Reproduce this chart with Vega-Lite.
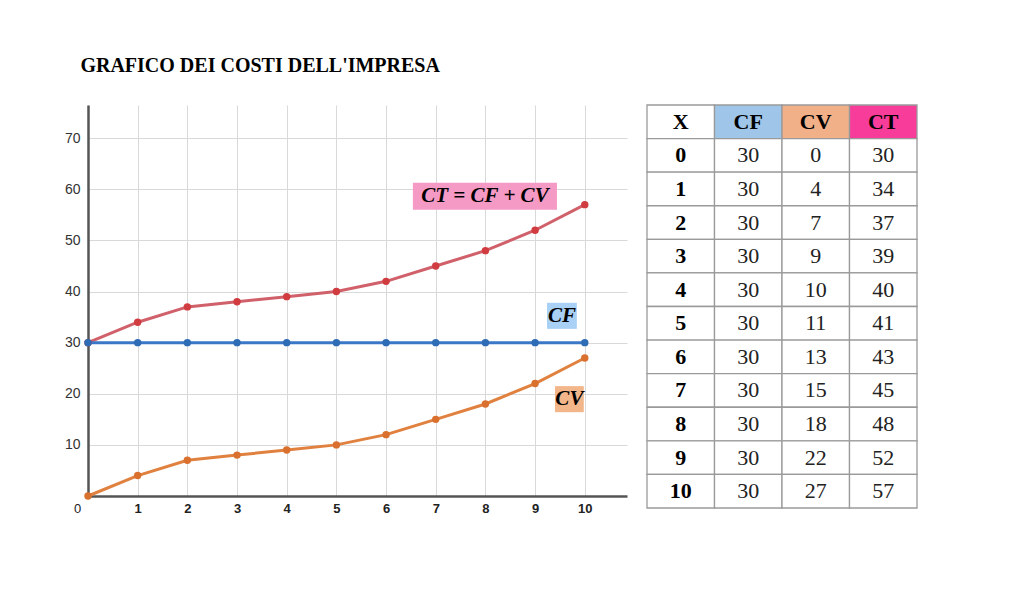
{
  "$schema": "https://vega.github.io/schema/vega-lite/v6.json",
  "background": "white",
  "padding": {"left": 64, "top": 56, "right": 5, "bottom": 5},
  "title": {
    "text": "GRAFICO DEI COSTI DELL'IMPRESA",
    "anchor": "start",
    "font": "Liberation Serif",
    "fontSize": 20,
    "fontWeight": "bold",
    "color": "black",
    "dx": 16,
    "offset": 28
  },
  "config": {"view": {"stroke": null}, "concat": {"spacing": 19}},
  "datasets": {
    "grafico": [
      {"x": 0, "CT": 30, "CF": 30, "CV": 0},
      {"x": 1, "CT": 34, "CF": 30, "CV": 4},
      {"x": 2, "CT": 37, "CF": 30, "CV": 7},
      {"x": 3, "CT": 38, "CF": 30, "CV": 8},
      {"x": 4, "CT": 39, "CF": 30, "CV": 9},
      {"x": 5, "CT": 40, "CF": 30, "CV": 10},
      {"x": 6, "CT": 42, "CF": 30, "CV": 12},
      {"x": 7, "CT": 45, "CF": 30, "CV": 15},
      {"x": 8, "CT": 48, "CF": 30, "CV": 18},
      {"x": 9, "CT": 52, "CF": 30, "CV": 22},
      {"x": 10, "CT": 57, "CF": 30, "CV": 27}
    ],
    "etichette": [
      {"serie": "CT", "testo": "CT = CF + CV", "x0": 6.54, "x1": 9.44, "y0": 56.0, "y1": 61.3, "xc": 7.99, "yc": 58.6},
      {"serie": "CF", "testo": "CF", "x0": 9.24, "x1": 9.84, "y0": 32.7, "y1": 37.8, "xc": 9.54, "yc": 35.2},
      {"serie": "CV", "testo": "CV", "x0": 9.4, "x1": 9.98, "y0": 16.4, "y1": 21.5, "xc": 9.69, "yc": 19.0}
    ],
    "tabella": [
      {"riga": 0, "X": "X", "CF": "CF", "CV": "CV", "CT": "CT"},
      {"riga": 1, "X": "0", "CF": "30", "CV": "0", "CT": "30"},
      {"riga": 2, "X": "1", "CF": "30", "CV": "4", "CT": "34"},
      {"riga": 3, "X": "2", "CF": "30", "CV": "7", "CT": "37"},
      {"riga": 4, "X": "3", "CF": "30", "CV": "9", "CT": "39"},
      {"riga": 5, "X": "4", "CF": "30", "CV": "10", "CT": "40"},
      {"riga": 6, "X": "5", "CF": "30", "CV": "11", "CT": "41"},
      {"riga": 7, "X": "6", "CF": "30", "CV": "13", "CT": "43"},
      {"riga": 8, "X": "7", "CF": "30", "CV": "15", "CT": "45"},
      {"riga": 9, "X": "8", "CF": "30", "CV": "18", "CT": "48"},
      {"riga": 10, "X": "9", "CF": "30", "CV": "22", "CT": "52"},
      {"riga": 11, "X": "10", "CF": "30", "CV": "27", "CT": "57"}
    ]
  },
  "hconcat": [
    {
      "width": 539,
      "height": 391,
      "layer": [
        {
          "data": {"name": "etichette"},
          "mark": {"type": "rect"},
          "encoding": {
            "x": {"field": "x0", "type": "quantitative"},
            "x2": {"field": "x1"},
            "y": {"field": "y0", "type": "quantitative"},
            "y2": {"field": "y1"},
            "color": {
              "field": "serie",
              "type": "nominal",
              "legend": null,
              "scale": {"domain": ["CT", "CF", "CV"], "range": ["#f59ac5", "#a9d0f5", "#f3b68b"]}
            }
          }
        },
        {
          "data": {"name": "grafico"},
          "transform": [{"fold": ["CT", "CF", "CV"], "as": ["serie", "costo"]}],
          "encoding": {
            "x": {
              "field": "x",
              "type": "quantitative",
              "title": null,
              "scale": {"domain": [0, 10.85], "nice": false, "zero": false},
              "axis": {
                "values": [0, 1, 2, 3, 4, 5, 6, 7, 8, 9, 10],
                "grid": true,
                "gridColor": "#d9d9d9",
                "ticks": false,
                "domainColor": "#555555",
                "domainWidth": 2.5,
                "labelFont": "Liberation Sans",
                "labelFontSize": 13,
                "labelColor": "#222222",
                "labelPadding": 6,
                "labelFlush": false,
                "labelFontWeight": {"condition": {"test": "datum.value === 0", "value": "normal"}, "value": "bold"},
                "labelOffset": {"condition": {"test": "datum.value === 0", "value": -11}, "value": 0}
              }
            },
            "y": {
              "field": "costo",
              "type": "quantitative",
              "title": null,
              "scale": {"domain": [0, 76.5], "nice": false},
              "axis": {
                "values": [10, 20, 30, 40, 50, 60, 70],
                "grid": true,
                "gridColor": "#d9d9d9",
                "ticks": false,
                "domainColor": "#555555",
                "domainWidth": 2.5,
                "labelFont": "Liberation Sans",
                "labelFontSize": 14,
                "labelColor": "#333333",
                "labelPadding": 8
              }
            }
          },
          "layer": [
            {
              "mark": {"type": "line", "strokeWidth": 3},
              "encoding": {
                "stroke": {
                  "field": "serie",
                  "type": "nominal",
                  "legend": null,
                  "scale": {"domain": ["CT", "CF", "CV"], "range": ["#d0606a", "#3a77c6", "#e0813f"]}
                }
              }
            },
            {
              "mark": {"type": "point", "filled": true, "size": 55, "opacity": 1},
              "encoding": {
                "fill": {
                  "field": "serie",
                  "type": "nominal",
                  "legend": null,
                  "scale": {"domain": ["CT", "CF", "CV"], "range": ["#d13c40", "#2e6cb5", "#d9702e"]}
                }
              }
            }
          ]
        },
        {
          "data": {"name": "etichette"},
          "mark": {"type": "text", "font": "Liberation Serif", "fontStyle": "italic", "fontWeight": "bold", "fontSize": 21, "color": "black", "baseline": "middle", "align": "center"},
          "encoding": {
            "x": {"field": "xc", "type": "quantitative"},
            "y": {"field": "yc", "type": "quantitative"},
            "text": {"field": "testo"}
          }
        }
      ]
    },
    {
      "width": 270,
      "height": 403,
      "data": {"name": "tabella"},
      "transform": [{"fold": ["X", "CF", "CV", "CT"], "as": ["colonna", "valore"]}],
      "encoding": {
        "x": {
          "field": "colonna",
          "type": "nominal",
          "sort": ["X", "CF", "CV", "CT"],
          "axis": null,
          "scale": {"paddingInner": 0, "paddingOuter": 0}
        },
        "y": {
          "field": "riga",
          "type": "ordinal",
          "axis": null,
          "scale": {"paddingInner": 0, "paddingOuter": 0}
        }
      },
      "layer": [
        {
          "mark": {"type": "rect", "stroke": "#9a9a9a", "strokeWidth": 1.3},
          "encoding": {
            "fill": {
              "condition": [
                {"test": "datum.riga === 0 && datum.colonna === 'CF'", "value": "#9fc5e8"},
                {"test": "datum.riga === 0 && datum.colonna === 'CV'", "value": "#f1b088"},
                {"test": "datum.riga === 0 && datum.colonna === 'CT'", "value": "#f73c9a"}
              ],
              "value": "white"
            }
          }
        },
        {
          "transform": [{"filter": "datum.riga === 0 || datum.colonna === 'X'"}],
          "mark": {"type": "text", "font": "Liberation Serif", "fontWeight": "bold", "fontSize": 22, "color": "black"},
          "encoding": {"text": {"field": "valore"}}
        },
        {
          "transform": [{"filter": "datum.riga > 0 && datum.colonna !== 'X'"}],
          "mark": {"type": "text", "font": "Liberation Serif", "fontSize": 22, "color": "#222222"},
          "encoding": {"text": {"field": "valore"}}
        }
      ]
    }
  ]
}
